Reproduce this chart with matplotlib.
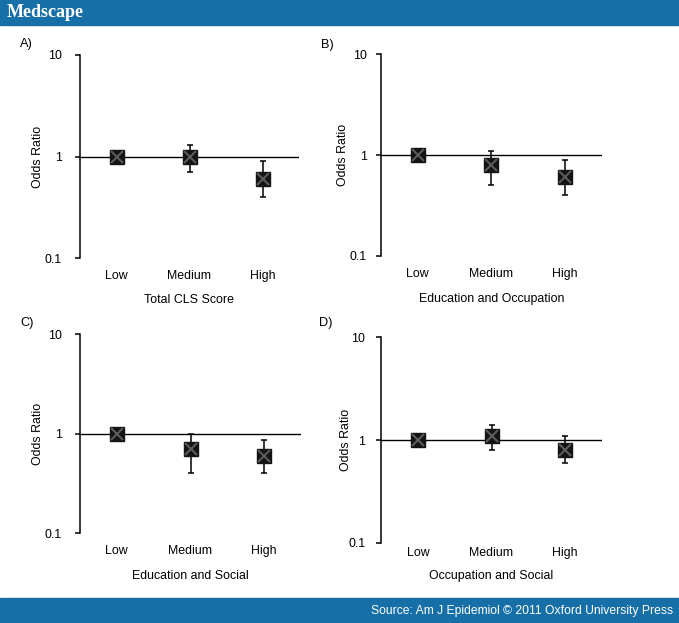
import matplotlib.pyplot as plt
from matplotlib.patches import Rectangle

plt.rcParams['font.family'] = ['Liberation Sans', 'DejaVu Sans']

categories = ['Low', 'Medium', 'High']
panel_letters = ['A)', 'B)', 'C)', 'D)']
panel_titles = ['Total CLS Score', 'Education and Occupation',
                'Education and Social', 'Occupation and Social']

# odds ratios with lower / upper confidence limits
or_total = [1.0, 1.0, 0.6]
lo_total = [1.0, 0.7, 0.4]
hi_total = [1.0, 1.3, 0.9]

or_edu_occ = [1.0, 0.8, 0.6]
lo_edu_occ = [1.0, 0.5, 0.4]
hi_edu_occ = [1.0, 1.1, 0.89]

or_edu_soc = [1.0, 0.7, 0.6]
lo_edu_soc = [1.0, 0.4, 0.4]
hi_edu_soc = [1.0, 1.0, 0.87]

or_occ_soc = [1.0, 1.1, 0.8]
lo_occ_soc = [1.0, 0.8, 0.6]
hi_occ_soc = [1.0, 1.4, 1.1]

W, H = 679, 623
blue = '#166fa6'

fig = plt.figure(figsize=(W / 100, H / 100), dpi=100)

# header / footer bands
fig.add_artist(Rectangle((0, 1 - 25 / H), 1, 25 / H, transform=fig.transFigure,
                         color=blue, zorder=0))
fig.add_artist(Rectangle((0, 0), 1, 25.5 / H, transform=fig.transFigure,
                         color=blue, zorder=0))
fig.text(7 / W, 1 - 12.5 / H, 'Medscape', color='white', fontsize=13,
         family='Liberation Serif', weight='semibold', ha='left', va='center')
fig.text(673 / W, 1 - 611 / H, 'Source: Am J Epidemiol \u00a9 2011 Oxford University Press',
         color='white', fontsize=8.7, ha='right', va='center')

# pixel boxes: left, top, right, bottom
boxes = [(80, 55, 299, 258.3), (380.7, 54.3, 601.7, 255.7),
         (80, 334.3, 301, 533.3), (381.3, 337.3, 601.7, 542.7)]
letter_pos = [(20, 44.5), (320.7, 45), (20, 323), (319.3, 323)]
ylabel_x = [38.3, 343.3, 38, 346]
ytick_pad = [9.5, 6.5, 9.5, 8]
xtick_pad = [8.5, 8.5, 8.5, 3]
xlabel_y = [300, 299.3, 575.7, 576]

data = [(or_total, lo_total, hi_total),
        (or_edu_occ, lo_edu_occ, hi_edu_occ),
        (or_edu_soc, lo_edu_soc, hi_edu_soc),
        (or_occ_soc, lo_occ_soc, hi_occ_soc)]

x = [1, 2, 3]
for i, (vals, lo, hi) in enumerate(data):
    l, t, r, b = boxes[i]
    ax = fig.add_axes([l / W, 1 - b / H, (r - l) / W, (b - t) / H])
    yerr = [[v - a for v, a in zip(vals, lo)], [c - v for v, c in zip(vals, hi)]]
    ax.axhline(1, color='black', lw=1.0, zorder=1)
    ax.errorbar(x, vals, yerr=yerr, fmt='none', ecolor='black', elinewidth=1.1,
                capsize=2.3, capthick=1.1, zorder=2)
    ax.plot(x, vals, 's', color='#141414', markersize=10, zorder=3)
    ax.plot(x, vals, 'x', color='#5a5a5a', markersize=9.0, mew=1.5, zorder=4)

    ax.set_yscale('log')
    ax.set_ylim(0.1, 10)
    ax.set_xlim(0.5, 3.5)
    ax.set_yticks([0.1, 1, 10])
    ax.set_yticklabels(['0.1', '1', '10'])
    ax.yaxis.set_minor_locator(plt.NullLocator())
    ax.set_xticks(x)
    ax.set_xticklabels(categories)
    ax.tick_params(axis='x', length=0, pad=xtick_pad[i], labelsize=8.9)
    ax.tick_params(axis='y', length=3.5, width=1.1, pad=ytick_pad[i], labelsize=8.9)
    for s in ['top', 'right', 'bottom']:
        ax.spines[s].set_visible(False)
    ax.spines['left'].set_linewidth(1.1)
    ax.patch.set_alpha(0)

    ax.set_ylabel('Odds Ratio', fontsize=8.9)
    ax.yaxis.label.set_va('center')
    ax.yaxis.set_label_coords((ylabel_x[i] - l) / (r - l), 0.5)
    ax.set_xlabel(panel_titles[i], fontsize=8.9)
    ax.xaxis.label.set_va('center')
    ax.xaxis.set_label_coords(0.5, -(xlabel_y[i] - b) / (b - t))

    fig.text(letter_pos[i][0] / W, 1 - letter_pos[i][1] / H, panel_letters[i],
             fontsize=9.2, ha='left', va='center')

fig.savefig('out.png', dpi=100)
